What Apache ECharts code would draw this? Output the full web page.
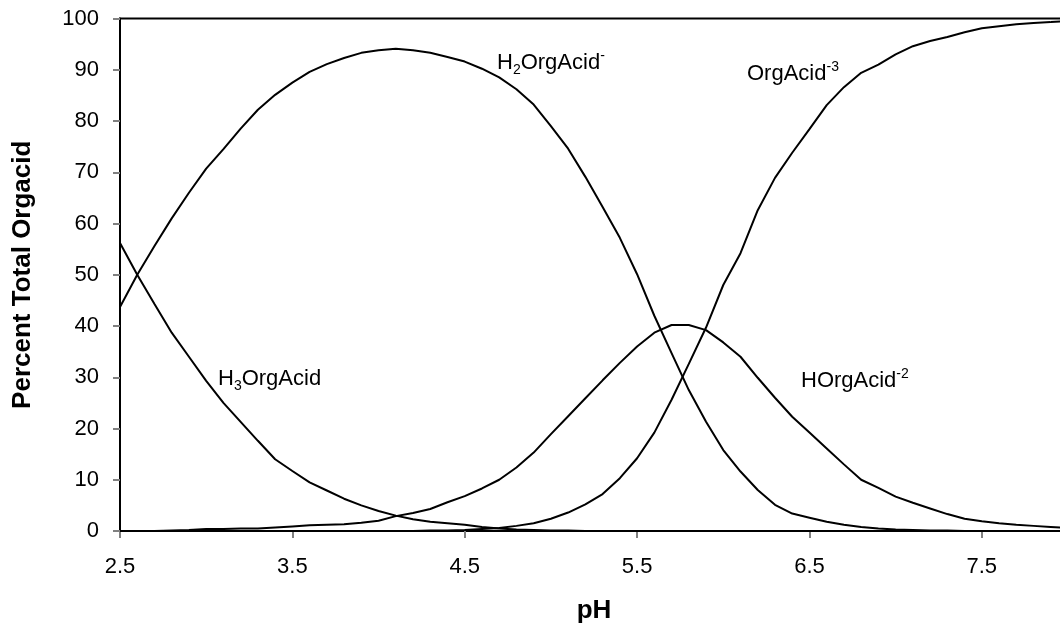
<!DOCTYPE html>
<html>
<head>
<meta charset="utf-8">
<script src="https://cdn.jsdelivr.net/npm/echarts@6/dist/echarts.min.js"></script>
<style>
html,body{margin:0;padding:0;background:#fff;}
#chart{width:1060px;height:640px;}
</style>
</head>
<body>
<div id="chart"></div>
<script>
var pH = [2.5,2.6,2.7,2.8,2.9,3.0,3.1,3.2,3.3,3.4,3.5,3.6,3.7,3.8,3.9,4.0,4.1,4.2,4.3,4.4,4.5,4.6,4.7,4.8,4.9,5.0,5.1,5.2,5.3,5.4,5.5,5.6,5.7,5.8,5.9,6.0,6.1,6.2,6.3,6.4,6.5,6.6,6.7,6.8,6.9,7.0,7.1,7.2,7.3,7.4,7.5,7.6,7.7,7.8,7.9,8.0];

var h3OrgAcid = [56.2,50.0,44.3,38.7,34.0,29.3,25.0,21.3,17.6,14.0,11.7,9.5,7.9,6.3,5.0,3.9,3.0,2.3,1.8,1.5,1.2,0.8,0.5,0.3,0.2,0.1,0.1,0,0,0,0,0,0,0,0,0,0,0,0,0,0,0,0,0,0,0,0,0,0,0,0,0,0,0,0,0];

var h2OrgAcid = [43.7,50.0,55.6,61.0,66.0,70.7,74.5,78.5,82.2,85.1,87.5,89.6,91.1,92.3,93.3,93.8,94.1,93.8,93.3,92.5,91.6,90.2,88.5,86.2,83.2,79.0,74.6,69.1,63.2,57.2,50.1,42.0,34.7,27.5,21.3,15.8,11.6,8.0,5.1,3.4,2.6,1.8,1.2,0.8,0.5,0.3,0.2,0.1,0.1,0,0,0,0,0,0,0];

var hOrgAcid = [0,0,0,0.1,0.2,0.4,0.4,0.5,0.5,0.7,0.9,1.1,1.2,1.3,1.6,2.0,2.9,3.5,4.3,5.6,6.8,8.3,10.0,12.4,15.3,18.9,22.4,25.9,29.4,32.8,36.0,38.7,40.2,40.2,39.2,36.8,34.0,29.9,26.0,22.3,19.2,16.1,13.0,10.0,8.4,6.7,5.5,4.4,3.3,2.4,1.9,1.5,1.2,1.0,0.8,0.6];

var orgAcid = [0,0,0,0,0,0,0,0,0,0,0,0,0,0,0,0,0,0,0.1,0.1,0.2,0.4,0.6,1.0,1.5,2.4,3.6,5.2,7.2,10.3,14.2,19.2,25.6,32.6,39.7,48.0,54.2,62.6,68.9,73.8,78.4,83.1,86.6,89.4,91.0,93.0,94.6,95.6,96.4,97.3,98.1,98.5,98.9,99.1,99.3,99.5];

var xTitle = 'pH';
var yTitle = 'Percent Total Orgacid';

function pairs(vals){ return pH.map(function(p,i){ return [p, vals[i]]; }); }

var FONT = '"Liberation Sans", Arial, sans-serif';
var chart = echarts.init(document.getElementById('chart'));

function lineSeries(name, vals){
  return {
    name: name, type: 'line', data: pairs(vals), symbol: 'none',
    lineStyle: {color: '#000', width: 2}, itemStyle: {color: '#000'},
    clip: false, silent: true
  };
}

var richStyle = {
  n: {fontSize: 22, fontFamily: FONT, color: '#000', lineHeight: 28},
  sub: {fontSize: 14, fontFamily: FONT, color: '#000', lineHeight: 14, verticalAlign: 'bottom'},
  sup: {fontSize: 14, fontFamily: FONT, color: '#000', lineHeight: 14, verticalAlign: 'top'}
};

function label(text, left, top){
  return {type: 'text', left: left, top: top, z: 100,
    style: {text: text, rich: richStyle, fill: '#000', font: '22px ' + FONT}};
}

chart.setOption({
  animation: false,
  backgroundColor: '#fff',
  grid: {left: 120, right: -8, top: 18.5, bottom: 109, show: true, borderColor: '#000', borderWidth: 2, containLabel: false, outerBoundsMode: 'none'},
  xAxis: {
    type: 'value', min: 2.5, max: 8.0, interval: 1,
    name: xTitle, nameLocation: 'middle', nameGap: 67,
    nameTextStyle: {fontFamily: FONT, fontSize: 26, fontWeight: 'bold', color: '#000'},
    axisLine: {show: true, onZero: false, lineStyle: {color: '#000', width: 2}},
    axisTick: {show: true, length: 7, lineStyle: {color: '#808080', width: 2}},
    axisLabel: {fontFamily: FONT, fontSize: 22, color: '#000', margin: 25, showMaxLabel: false,
      formatter: function(v){ return v.toFixed(1); }},
    splitLine: {show: false}
  },
  yAxis: {
    type: 'value', min: 0, max: 100, interval: 10,
    name: yTitle, nameLocation: 'middle', nameGap: 84, nameRotate: 90,
    nameTextStyle: {fontFamily: FONT, fontSize: 26, fontWeight: 'bold', color: '#000'},
    axisLine: {show: true, lineStyle: {color: '#000', width: 2}},
    axisTick: {show: true, length: 7, lineStyle: {color: '#808080', width: 2}},
    axisLabel: {fontFamily: FONT, fontSize: 22, color: '#000', margin: 21},
    splitLine: {show: false}
  },
  series: [
    lineSeries('H3OrgAcid', h3OrgAcid),
    lineSeries('H2OrgAcid-', h2OrgAcid),
    lineSeries('HOrgAcid-2', hOrgAcid),
    lineSeries('OrgAcid-3', orgAcid)
  ],
  graphic: [
    label('{n|H}{sub|2}{n|OrgAcid}{sup|-}', 497, 49),
    label('{n|OrgAcid}{sup|-3}', 747, 60),
    label('{n|H}{sub|3}{n|OrgAcid}', 218, 368),
    label('{n|HOrgAcid}{sup|-2}', 801, 367)
  ]
});
</script>
</body>
</html>
